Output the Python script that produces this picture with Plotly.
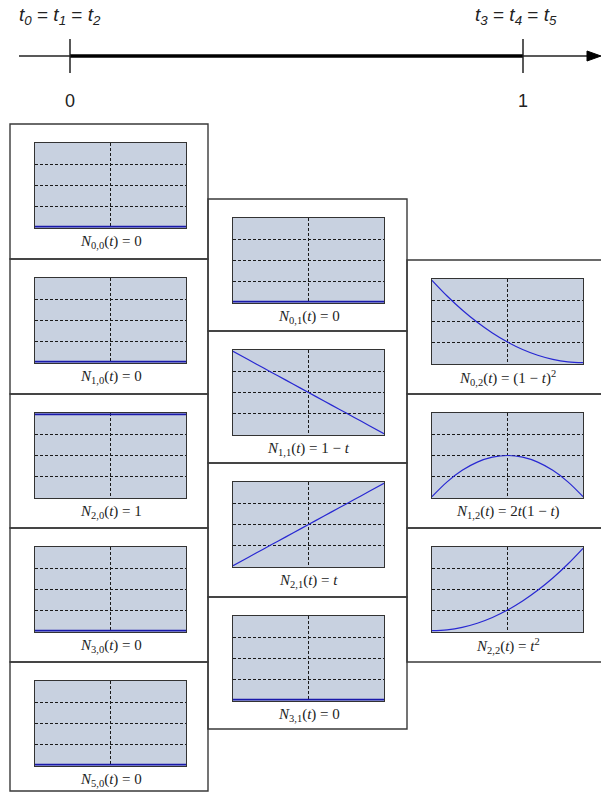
import plotly.graph_objects as go

W, H = 601, 795

# Sample points of the parameter t on [0, 1]
T = [0.0, 0.1, 0.2, 0.3, 0.4, 0.5, 0.6, 0.7, 0.8, 0.9, 1.0]

# Degree-0 basis functions
N00 = [0, 0, 0, 0, 0, 0, 0, 0, 0, 0, 0]
N10 = [0, 0, 0, 0, 0, 0, 0, 0, 0, 0, 0]
N20 = [1, 1, 1, 1, 1, 1, 1, 1, 1, 1, 1]
N30 = [0, 0, 0, 0, 0, 0, 0, 0, 0, 0, 0]
N50 = [0, 0, 0, 0, 0, 0, 0, 0, 0, 0, 0]

# Degree-1 basis functions
N01 = [0, 0, 0, 0, 0, 0, 0, 0, 0, 0, 0]
N11 = [1.0, 0.9, 0.8, 0.7, 0.6, 0.5, 0.4, 0.3, 0.2, 0.1, 0.0]
N21 = [0.0, 0.1, 0.2, 0.3, 0.4, 0.5, 0.6, 0.7, 0.8, 0.9, 1.0]
N31 = [0, 0, 0, 0, 0, 0, 0, 0, 0, 0, 0]

# Degree-2 basis functions
N02 = [1.0, 0.81, 0.64, 0.49, 0.36, 0.25, 0.16, 0.09, 0.04, 0.01, 0.0]
N12 = [0.0, 0.18, 0.32, 0.42, 0.48, 0.5, 0.48, 0.42, 0.32, 0.18, 0.0]
N22 = [0.0, 0.01, 0.04, 0.09, 0.16, 0.25, 0.36, 0.49, 0.64, 0.81, 1.0]

# Captions
CAP = {
    "N00": "<i>N</i><sub>0,0</sub>(<i>t</i>) = 0",
    "N10": "<i>N</i><sub>1,0</sub>(<i>t</i>) = 0",
    "N20": "<i>N</i><sub>2,0</sub>(<i>t</i>) = 1",
    "N30": "<i>N</i><sub>3,0</sub>(<i>t</i>) = 0",
    "N50": "<i>N</i><sub>5,0</sub>(<i>t</i>) = 0",
    "N01": "<i>N</i><sub>0,1</sub>(<i>t</i>) = 0",
    "N11": "<i>N</i><sub>1,1</sub>(<i>t</i>) = 1 − <i>t</i>",
    "N21": "<i>N</i><sub>2,1</sub>(<i>t</i>) = <i>t</i>",
    "N31": "<i>N</i><sub>3,1</sub>(<i>t</i>) = 0",
    "N02": "<i>N</i><sub>0,2</sub>(<i>t</i>) = (1 − <i>t</i>)<sup>2</sup>",
    "N12": "<i>N</i><sub>1,2</sub>(<i>t</i>) = 2<i>t</i>(1 − <i>t</i>)",
    "N22": "<i>N</i><sub>2,2</sub>(<i>t</i>) = <i>t</i><sup>2</sup>",
}

# Knot labels of the parameter line
KNOT_LEFT = "<i>t</i><sub><i>0</i></sub> = <i>t</i><sub><i>1</i></sub> = <i>t</i><sub><i>2</i></sub>"
KNOT_RIGHT = "<i>t</i><sub><i>3</i></sub> = <i>t</i><sub><i>4</i></sub> = <i>t</i><sub><i>5</i></sub>"
TICK_LABELS = ["0", "1"]

# Column layout (pixels): left/right edges and row edges of the framed cells
COLS = [
    dict(left=10, right=208, rows=[124, 259, 394, 528, 662, 791],
         panels=[(N00, "N00"), (N10, "N10"), (N20, "N20"), (N30, "N30"), (N50, "N50")]),
    dict(left=208, right=407, rows=[199, 331, 463, 597, 729],
         panels=[(N01, "N01"), (N11, "N11"), (N21, "N21"), (N31, "N31")]),
    dict(left=407, right=604, rows=[260, 394, 528, 662],
         panels=[(N02, "N02"), (N12, "N12"), (N22, "N22")]),
]

PLOT_DX, PLOT_DY, PLOT_W, PLOT_H = 25, 19, 151, 85
BG = "rgb(200,209,224)"
CURVE = "rgb(40,40,210)"
FRAME = "#3a3a3a"


def px(x):
    return x / W


def py(y):
    return 1 - y / H


fig = go.Figure()
shapes = []
annotations = []
layout_axes = {}

k = 0
for col in COLS:
    for i, (vals, key) in enumerate(col["panels"]):
        k += 1
        top, bot = col["rows"][i], col["rows"][i + 1]
        shapes.append(dict(type="rect", xref="paper", yref="paper",
                           x0=px(col["left"]), x1=px(col["right"]),
                           y0=py(bot), y1=py(top),
                           line=dict(color=FRAME, width=1.4), fillcolor="rgba(0,0,0,0)"))
        x0 = col["left"] + PLOT_DX
        y0 = top + PLOT_DY
        xa = "xaxis" if k == 1 else f"xaxis{k}"
        ya = "yaxis" if k == 1 else f"yaxis{k}"
        xr = "x" if k == 1 else f"x{k}"
        yr = "y" if k == 1 else f"y{k}"
        common = dict(showline=True, mirror=True, linecolor="#333", linewidth=1,
                      showticklabels=False, ticks="", zeroline=False,
                      showgrid=True, gridcolor="#1a1a1a", gridwidth=1, griddash="3px,2px",
                      fixedrange=True)
        layout_axes[xa] = dict(domain=[px(x0), px(x0 + PLOT_W)], range=[0, 1],
                               tickvals=[0.5], anchor=yr, **common)
        layout_axes[ya] = dict(domain=[py(y0 + PLOT_H), py(y0)], range=[-0.016, 1.016],
                               tickvals=[0.25, 0.5, 0.75], anchor=xr, **common)
        flat = min(vals) == max(vals)
        fig.add_trace(go.Scatter(x=T, y=vals, mode="lines", xaxis=xr, yaxis=yr,
                                 line=dict(color="rgb(25,25,170)" if flat else CURVE,
                                           width=1.8 if flat else 1.2, shape="spline"),
                                 showlegend=False, hoverinfo="skip"))
        annotations.append(dict(xref="paper", yref="paper",
                                x=px(x0 + PLOT_W / 2), y=py(y0 + PLOT_H + 14),
                                text=CAP[key], showarrow=False,
                                xanchor="center", yanchor="middle",
                                font=dict(family="Liberation Serif", size=15, color="#222")))

# Parameter line with knot ticks
LINE_Y = 56
shapes += [
    dict(type="line", xref="paper", yref="paper", x0=px(19), x1=px(592),
         y0=py(LINE_Y), y1=py(LINE_Y), line=dict(color="#222", width=1.5)),
    dict(type="line", xref="paper", yref="paper", x0=px(70), x1=px(523),
         y0=py(LINE_Y), y1=py(LINE_Y), line=dict(color="black", width=3.5)),
    dict(type="line", xref="paper", yref="paper", x0=px(70), x1=px(70),
         y0=py(39), y1=py(73), line=dict(color="#222", width=1.5)),
    dict(type="line", xref="paper", yref="paper", x0=px(523), x1=px(523),
         y0=py(39), y1=py(73), line=dict(color="#222", width=1.5)),
    dict(type="path", xref="paper", yref="paper",
         path=f"M {px(587)},{py(51)} L {px(601)},{py(LINE_Y)} L {px(587)},{py(61)} Z",
         fillcolor="black", line=dict(color="black", width=1)),
]
for xx, lab in zip([70, 523], TICK_LABELS):
    annotations.append(dict(xref="paper", yref="paper", x=px(xx), y=py(101), text=lab,
                            showarrow=False, xanchor="center", yanchor="middle",
                            font=dict(family="Liberation Sans", size=18, color="#222")))
annotations.append(dict(xref="paper", yref="paper", x=px(60), y=py(16), text=KNOT_LEFT,
                        showarrow=False, xanchor="center", yanchor="middle",
                        font=dict(family="Liberation Sans", size=19, color="#222")))
annotations.append(dict(xref="paper", yref="paper", x=px(516), y=py(16), text=KNOT_RIGHT,
                        showarrow=False, xanchor="center", yanchor="middle",
                        font=dict(family="Liberation Sans", size=19, color="#222")))

fig.update_layout(width=W, height=H, margin=dict(l=0, r=0, t=0, b=0),
                  paper_bgcolor="white", plot_bgcolor=BG,
                  shapes=shapes, annotations=annotations, **layout_axes)

fig.write_html("out.html", config={"displayModeBar": False})
